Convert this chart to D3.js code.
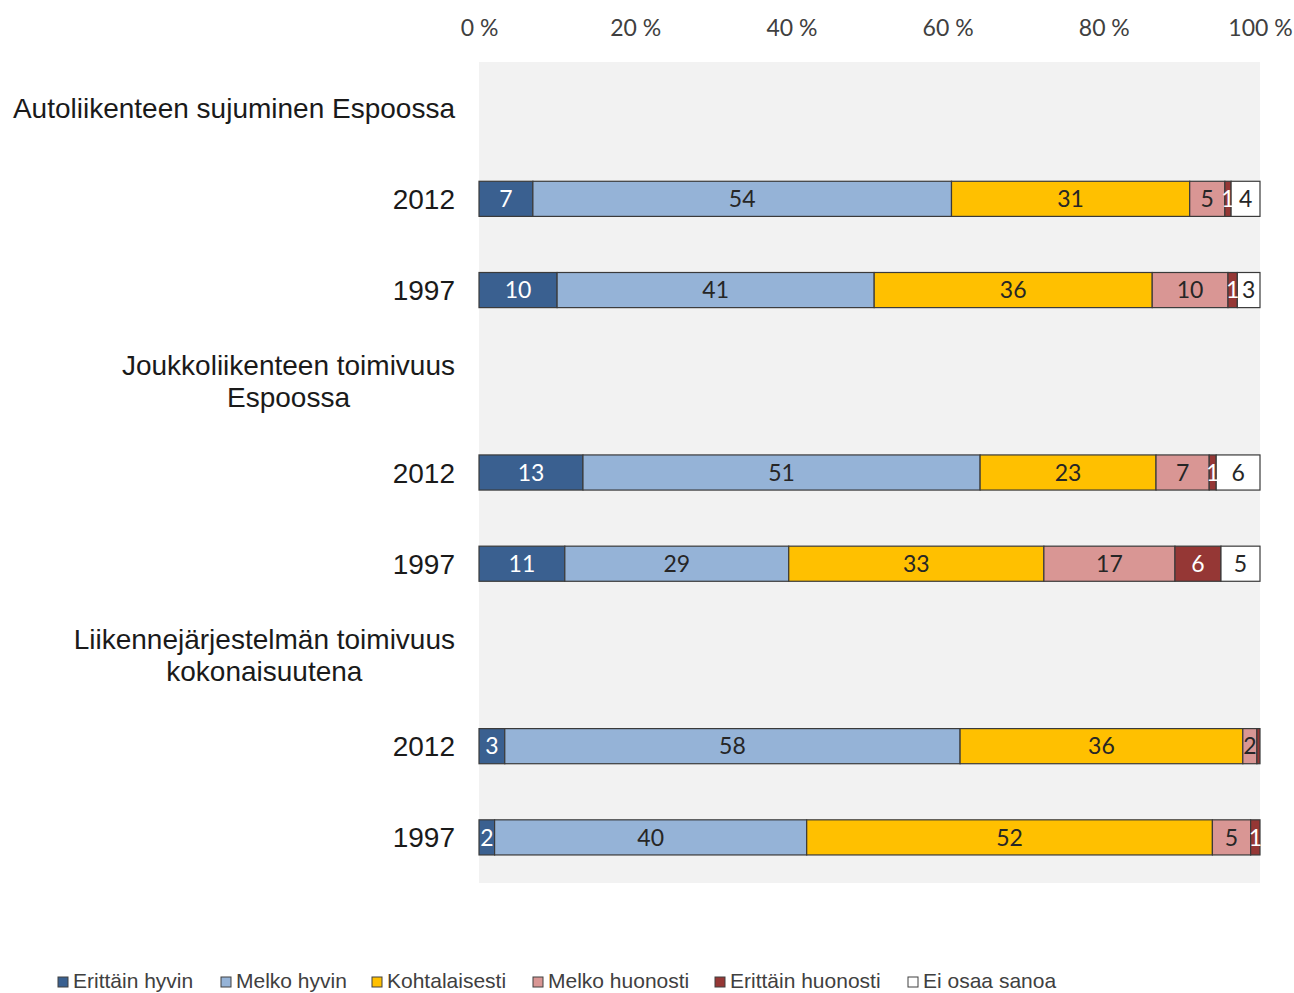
<!DOCTYPE html>
<html>
<head>
<meta charset="utf-8">
<script src="https://cdn.jsdelivr.net/npm/d3@7"></script>
<style>
  body { margin: 0; background: #fff; }
  svg { display: block; }
</style>
</head>
<body>
<svg id="chart" width="1294" height="993"></svg>
<script>
// rows, top to bottom; header rows carry no values
const rowLabels = [
  ["Autoliikenteen sujuminen Espoossa"], ["2012"], ["1997"],
  ["Joukkoliikenteen toimivuus", "Espoossa"], ["2012"], ["1997"],
  ["Liikennejärjestelmän toimivuus", "kokonaisuutena"], ["2012"], ["1997"]
];
const seriesNames = ["Erittäin hyvin", "Melko hyvin", "Kohtalaisesti", "Melko huonosti", "Erittäin huonosti", "Ei osaa sanoa"];
const seriesColors = ["#3a6090", "#95b3d7", "#ffc000", "#d99694", "#953735", "#ffffff"];
const labelColors = ["#fff", "#262626", "#262626", "#262626", "#fff", "#262626"];

// shares in percent (labels are rounded)
const erittainHyvin    = [0, 6.9, 10.0, 0, 13.3, 11.0, 0, 3.3, 2.0];
const melkoHyvin       = [0, 53.6, 40.6, 0, 50.8, 28.7, 0, 58.3, 40.0];
const kohtalaisesti    = [0, 30.5, 35.6, 0, 22.5, 32.7, 0, 36.2, 52.0];
const melkoHuonosti    = [0, 4.5, 9.7, 0, 6.8, 16.8, 0, 1.8, 4.9];
const erittainHuonosti = [0, 0.8, 1.2, 0, 0.9, 5.9, 0, 0.4, 1.2];
const eiOsaaSanoa      = [0, 3.7, 2.9, 0, 5.6, 5.0, 0, 0, 0];

const xTicks = [0, 0.2, 0.4, 0.6, 0.8, 1];

const seriesValues = [erittainHyvin, melkoHyvin, kohtalaisesti, melkoHuonosti, erittainHuonosti, eiOsaaSanoa];
const table = rowLabels.map((l, i) => {
  const o = { row: i };
  seriesNames.forEach((s, k) => o[s] = seriesValues[k][i]);
  return o;
});

const svg = d3.select("#chart");
const plotL = 479, plotR = 1260, plotT = 62, plotB = 883;

const x = d3.scaleLinear().domain([0, 1]).range([plotL, plotR]);
const y = d3.scaleBand().domain(d3.range(rowLabels.length)).range([plotT, plotB]);
const barH = y.bandwidth() * 0.385;

// plot background
svg.append("rect")
  .attr("x", plotL).attr("y", plotT)
  .attr("width", plotR - plotL).attr("height", plotB - plotT)
  .attr("fill", "#f2f2f2");

// top axis
const axis = svg.append("g")
  .attr("transform", `translate(0,${plotT})`)
  .call(d3.axisTop(x).tickValues(xTicks).tickSize(0).tickPadding(26)
    .tickFormat(d => Math.round(d * 100) + " %"));
axis.select(".domain").remove();
axis.selectAll("text")
  .attr("font-family", "Lato, 'Open Sans', sans-serif")
  .attr("font-size", 23)
  .attr("fill", "#404040");

// stacked bars
const stack = d3.stack().keys(seriesNames).offset(d3.stackOffsetExpand);
const layers = stack(table);

const g = svg.append("g");
layers.forEach((layer, k) => {
  const pts = layer.filter(d => d.data[layer.key] > 0);
  g.selectAll(null)
    .data(pts)
    .join("rect")
    .attr("x", d => x(d[0]))
    .attr("y", d => y(d.data.row) + (y.bandwidth() - barH) / 2)
    .attr("width", d => x(d[1]) - x(d[0]))
    .attr("height", barH)
    .attr("fill", seriesColors[k])
    .attr("stroke", "#3a3a3a")
    .attr("stroke-width", 1.2);
});
layers.forEach((layer, k) => {
  const pts = layer.filter(d => Math.round(d.data[layer.key]) >= 1);
  g.selectAll(null)
    .data(pts)
    .join("text")
    .attr("x", d => (x(d[0]) + x(d[1])) / 2)
    .attr("y", d => y(d.data.row) + y.bandwidth() / 2)
    .attr("dy", "0.36em")
    .attr("text-anchor", "middle")
    .attr("font-family", "Lato, 'Open Sans', sans-serif")
    .attr("font-size", 23)
    .attr("fill", labelColors[k])
    .text(d => Math.round(d.data[layer.key]));
});

// row labels
const labelRight = 455;
rowLabels.forEach((lines, i) => {
  const cy = y(i) + y.bandwidth() / 2;
  const t = svg.append("text")
    .attr("font-family", "'Liberation Sans', Arial, sans-serif")
    .attr("font-size", 28)
    .attr("fill", "#1a1a1a");
  const lh = 32;
  const spans = lines.map((s, j) => t.append("tspan")
    .attr("y", cy + (j - (lines.length - 1) / 2) * lh)
    .attr("dy", "0.36em")
    .text(s));
  const widths = spans.map(sp => sp.node().getComputedTextLength());
  const maxW = d3.max(widths);
  const cx = labelRight - maxW / 2;
  spans.forEach(sp => sp.attr("x", cx).attr("text-anchor", "middle"));
});

// legend
const legendX = [58, 221, 372, 533, 715, 908];
const legend = svg.append("g");
seriesNames.forEach((s, k) => {
  legend.append("rect")
    .attr("x", legendX[k]).attr("y", 977)
    .attr("width", 10).attr("height", 10)
    .attr("fill", seriesColors[k])
    .attr("stroke", "#404040").attr("stroke-width", 1);
  legend.append("text")
    .attr("x", legendX[k] + 15).attr("y", 988)
    .attr("font-family", "'Liberation Sans', Arial, sans-serif")
    .attr("font-size", 21)
    .attr("fill", "#404040")
    .text(s);
});
</script>
</body>
</html>
